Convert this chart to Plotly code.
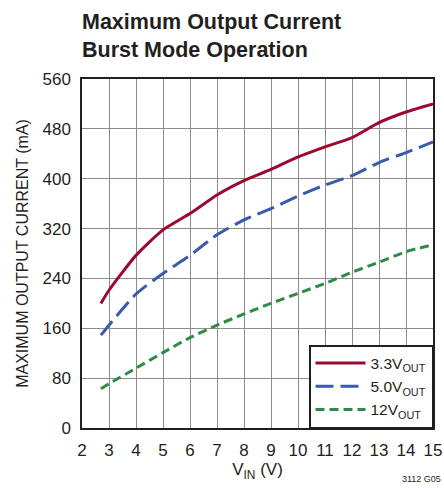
import plotly.graph_objects as go

# input voltage (V)
vin = [2.7, 3, 4, 5, 6, 7, 8, 9, 10, 11, 12, 13, 14, 15]

# maximum output current (mA)
i_3v3 = [200, 221, 277, 318, 344, 374, 397, 415, 435, 451, 466, 490, 507, 520]
i_5v0 = [149, 165, 215, 248, 277, 310, 334, 352, 372, 390, 405, 426, 442, 459]
i_12v = [63, 71, 96, 121, 145, 165, 183, 200, 216, 232, 250, 266, 283, 294]

series_names = ['3.3V<sub>OUT</sub>', '5.0V<sub>OUT</sub>', '12V<sub>OUT</sub>']
series_colors = ['#9B0A2E', '#3A5BAA', '#2E8B47']
series_dash = ['solid', '18px,7px', '9px,5px']

x_ticks = list(range(2, 16))
y_ticks = list(range(0, 561, 80))

fonte = "Liberation Sans, Arial, sans-serif"
preto = '#231F20'

fig = go.Figure()
for nome, y, cor, traco in zip(series_names, [i_3v3, i_5v0, i_12v], series_colors, series_dash):
    fig.add_trace(go.Scatter(
        x=vin, y=y,
        mode='lines',
        name=nome,
        line=dict(color=cor, width=3, dash=traco, shape='spline', smoothing=0.6),
    ))

fig.update_layout(
    width=444, height=488,
    margin=dict(l=82, r=11, t=79, b=60),
    paper_bgcolor='white',
    plot_bgcolor='white',
    font=dict(family=fonte, size=17, color=preto),
    showlegend=True,
    legend=dict(
        x=1, xanchor='right', y=0, yanchor='bottom',
        bgcolor='white', bordercolor=preto, borderwidth=1.5,
        font=dict(family=fonte, size=15.5, color=preto),
        tracegroupgap=0, itemwidth=50,
    ),
)

fig.update_xaxes(
    range=[2, 15],
    tickvals=x_ticks,
    ticks='', ticklabelstandoff=6, ticklabeloverflow='allow',
    showgrid=True, gridcolor='#8C8C8C', gridwidth=1,
    showline=True, linecolor=preto, linewidth=1.5, mirror=True,
    zeroline=False, automargin=False,
    title=dict(text='V<sub>IN</sub> (V)', font=dict(family=fonte, size=17), standoff=4),
)
fig.update_yaxes(
    range=[0, 560],
    tickvals=y_ticks,
    ticks='', ticklabelstandoff=6, ticklabeloverflow='allow',
    showgrid=True, gridcolor='#8C8C8C', gridwidth=1,
    showline=True, linecolor=preto, linewidth=1.5, mirror=True,
    zeroline=False, automargin=False,
    title=dict(text='MAXIMUM OUTPUT CURRENT (mA)', font=dict(family=fonte, size=16), standoff=10),
)

fig.add_annotation(
    text='<b>Maximum Output Current<br>Burst Mode Operation</b>',
    xref='paper', yref='paper', x=-0.006, y=1.203,
    xanchor='left', yanchor='top', align='left', showarrow=False,
    font=dict(family=fonte, size=21.5, color=preto),
)
fig.add_annotation(
    text='3112 G05', xref='paper', yref='paper', x=1.028, y=-0.125,
    xanchor='right', yanchor='top', showarrow=False,
    font=dict(family=fonte, size=9, color=preto),
)

# drop the default 8px page margin so the figure fills the window
fig.write_html("out.html", config={'displayModeBar': False},
               post_script="document.body.style.margin='0';")
